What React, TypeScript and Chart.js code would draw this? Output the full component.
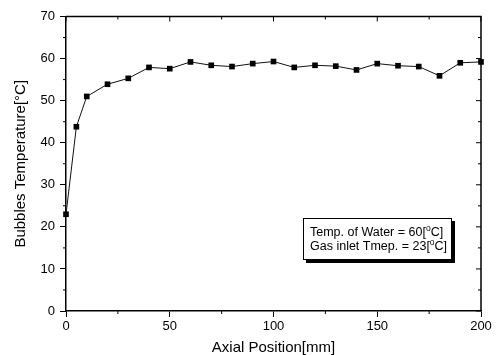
import React, { useEffect, useRef } from "react";
import { Chart, registerables } from "chart.js";

Chart.register(...registerables);

const positions = [0, 5, 10, 20, 30, 40, 50, 60, 70, 80, 90, 100, 110, 120, 130, 140, 150, 160, 170, 180, 190, 200];
const temperatures = [23.0, 43.8, 51.0, 53.9, 55.3, 57.9, 57.6, 59.2, 58.4, 58.1, 58.8, 59.3, 57.9, 58.4, 58.2, 57.3, 58.8, 58.3, 58.1, 55.9, 59.0, 59.2];
const xMajorTicks = [0, 50, 100, 150, 200];
const xMinorTicks = [25, 75, 125, 175];
const yMajorTicks = [0, 10, 20, 30, 40, 50, 60, 70];
const yMinorTicks = [5, 15, 25, 35, 45, 55, 65];
const noteLines = [
  ["Temp. of Water = 60[", "o", "C]"],
  ["Gas inlet Tmep. = 23[", "o", "C]"],
];
// note box anchored in data coordinates
const noteBox = { x0: 114, x1: 186, y0: 22.1, y1: 12.1 };

const FONT = '"Liberation Sans", Arial, sans-serif';

const framePlugin = {
  id: "frame",
  afterDraw(chart: any) {
    const { ctx, chartArea: a, scales } = chart;
    const xs = scales.x;
    const ys = scales.y;
    ctx.save();
    ctx.strokeStyle = "#000";
    ctx.lineWidth = 1.5;
    ctx.beginPath();
    ctx.moveTo(a.left, a.top);
    ctx.lineTo(a.right, a.top);
    ctx.lineTo(a.right, a.bottom);
    ctx.stroke();
    ctx.lineWidth = 1;
    ctx.beginPath();
    for (const v of xMajorTicks) {
      const px = xs.getPixelForValue(v);
      ctx.moveTo(px, a.top);
      ctx.lineTo(px, a.top + 5);
    }
    for (const v of xMinorTicks) {
      const px = xs.getPixelForValue(v);
      ctx.moveTo(px, a.top);
      ctx.lineTo(px, a.top + 3);
      ctx.moveTo(px, a.bottom);
      ctx.lineTo(px, a.bottom + 3);
    }
    for (const v of yMajorTicks) {
      const py = ys.getPixelForValue(v);
      ctx.moveTo(a.right, py);
      ctx.lineTo(a.right - 5, py);
    }
    for (const v of yMinorTicks) {
      const py = ys.getPixelForValue(v);
      ctx.moveTo(a.right, py);
      ctx.lineTo(a.right - 3, py);
      ctx.moveTo(a.left, py);
      ctx.lineTo(a.left - 3, py);
    }
    ctx.stroke();

    const bx0 = Math.round(xs.getPixelForValue(noteBox.x0));
    const bx1 = Math.round(xs.getPixelForValue(noteBox.x1));
    const by0 = Math.round(ys.getPixelForValue(noteBox.y0));
    const by1 = Math.round(ys.getPixelForValue(noteBox.y1));
    ctx.fillStyle = "#000";
    ctx.fillRect(bx0 + 3, by0 + 3, bx1 - bx0, by1 - by0);
    ctx.fillStyle = "#fff";
    ctx.fillRect(bx0, by0, bx1 - bx0, by1 - by0);
    ctx.lineWidth = 1;
    ctx.strokeRect(bx0 + 0.5, by0 + 0.5, bx1 - bx0 - 1, by1 - by0 - 1);
    ctx.fillStyle = "#000";
    ctx.textBaseline = "alphabetic";
    ctx.textAlign = "left";
    const lineGap = 14;
    const baseY = by0 + 18;
    noteLines.forEach((parts, i) => {
      let x = bx0 + 7;
      const y = baseY + i * lineGap;
      ctx.font = `12.5px ${FONT}`;
      ctx.fillText(parts[0], x, y);
      x += ctx.measureText(parts[0]).width;
      ctx.font = `8.5px ${FONT}`;
      ctx.fillText(parts[1], x, y - 5);
      x += ctx.measureText(parts[1]).width;
      ctx.font = `12.5px ${FONT}`;
      ctx.fillText(parts[2], x, y);
    });
    ctx.restore();
  },
};

export default function App() {
  const ref = useRef<HTMLCanvasElement | null>(null);
  useEffect(() => {
    if (!ref.current) return;
    const chart = new Chart(ref.current, {
      type: "line",
      data: {
        labels: positions,
        datasets: [
          {
            data: positions.map((p, i) => ({ x: p, y: temperatures[i] })),
            borderColor: "#111",
            borderWidth: 1,
            pointStyle: "rect",
            pointRadius: 4,
            pointBackgroundColor: "#000",
            pointBorderWidth: 0,
            tension: 0,
            clip: false as any,
          },
        ],
      },
      options: {
        animation: false,
        responsive: false,
        layout: { padding: { left: 0, top: 16.5, right: 16, bottom: 0 } },
        plugins: { legend: { display: false }, tooltip: { enabled: false } },
        scales: {
          x: {
            type: "linear",
            min: 0,
            max: 200,
            afterFit(scale: any) {
              scale.height = 44;
            },
            afterBuildTicks(scale: any) {
              scale.ticks = xMajorTicks.map((v) => ({ value: v }));
            },
            ticks: { color: "#000", padding: 2, font: { family: FONT, size: 13 }, maxRotation: 0 },
            grid: { drawOnChartArea: false, drawTicks: true, tickLength: 6, color: "#000", lineWidth: 1 },
            border: { display: true, color: "#000", width: 1.5 },
            title: {
              display: true,
              text: "Axial Position[mm]",
              color: "#000",
              font: { family: FONT, size: 15, lineHeight: 1 },
              padding: { top: 0, bottom: 0 },
            },
          },
          y: {
            type: "linear",
            min: 0,
            max: 70,
            afterFit(scale: any) {
              scale.width = 66;
            },
            afterBuildTicks(scale: any) {
              scale.ticks = yMajorTicks.map((v) => ({ value: v }));
            },
            ticks: { color: "#000", padding: 5, font: { family: FONT, size: 13 } },
            grid: { drawOnChartArea: false, drawTicks: true, tickLength: 6, color: "#000", lineWidth: 1 },
            border: { display: true, color: "#000", width: 1.5 },
            title: {
              display: true,
              text: "Bubbles Temperature[°C]",
              color: "#000",
              font: { family: FONT, size: 15, lineHeight: 1 },
              padding: { top: 13, bottom: 0 },
            },
          },
        },
      },
      plugins: [framePlugin],
    });
    return () => chart.destroy();
  }, []);
  return (
    <div style={{ position: "fixed", left: 0, top: 0, width: 497, height: 355, background: "#fff" }}>
      <canvas ref={ref} width={497} height={355} style={{ display: "block" }} />
    </div>
  );
}
